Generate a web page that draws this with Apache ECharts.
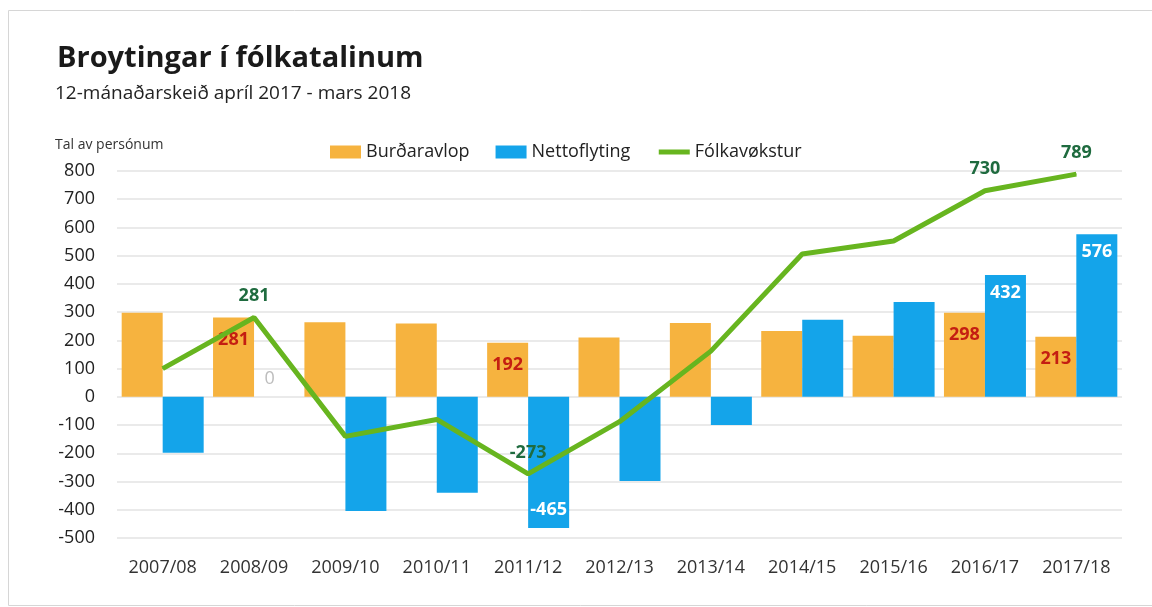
<!DOCTYPE html>
<html>
<head>
<meta charset="utf-8">
<script src="https://cdn.jsdelivr.net/npm/echarts@6/dist/echarts.min.js"></script>
<style>
  html, body { margin: 0; padding: 0; background: #fff; }
  #main { width: 1152px; height: 607px; }
</style>
</head>
<body>
<div id="main"></div>
<script>
var categories = ['2007/08', '2008/09', '2009/10', '2010/11', '2011/12', '2012/13', '2013/14', '2014/15', '2015/16', '2016/17', '2017/18'];
var burdaravlop = [298, 281, 264, 260, 192, 210, 262, 233, 216, 298, 213];
var nettoflyting = [-198, 0, -404, -340, -465, -298, -100, 273, 336, 432, 576];
var folkavokstur = [100, 281, -140, -80, -273, -88, 162, 506, 552, 730, 789];
var yTicks = [-500, 800, 100];

// which points carry a value label
var burdLabelIdx = [1, 4, 9, 10];
var nettoLabelIdx = [4, 9, 10];
var folkLabelIdx = [1, 4, 9, 10];

var chart = echarts.init(document.getElementById('main'));
var font = "'Open Sans', 'Noto Sans', sans-serif";

var burdData = burdaravlop.map(function (v, i) {
  var show = burdLabelIdx.indexOf(i) >= 0;
  return { value: v, label: { show: show } };
});
var nettoData = nettoflyting.map(function (v, i) {
  if (v === 0) {
    return { value: v, label: { show: true, position: 'top', color: '#bdbdbd', fontWeight: 'normal', distance: 9, offset: [-5, 0] } };
  }
  var show = nettoLabelIdx.indexOf(i) >= 0;
  return { value: v, label: { show: show, position: v < 0 ? 'insideBottom' : 'insideTop' } };
});
var folkData = folkavokstur.map(function (v, i) {
  return { value: v, label: { show: folkLabelIdx.indexOf(i) >= 0 } };
});

var option = {
  backgroundColor: '#fff',
  animation: false,
  textStyle: { fontFamily: font },
  graphic: [
    { type: 'rect', shape: { x: 8.5, y: 10.5, width: 1160, height: 595 }, style: { fill: 'none', stroke: '#d6d6d6', lineWidth: 1 } },
    { type: 'text', left: 57, top: 44, style: { text: 'Broytingar í fólkatalinum', font: "bold 29px " + font, fill: '#1a1a1a' } },
    { type: 'text', left: 55, top: 84, style: { text: '12-mánaðarskeið apríl 2017 - mars 2018', font: "19px " + font, fill: '#222' } },
    { type: 'text', left: 55, top: 138, style: { text: 'Tal av persónum', font: "14px " + font, fill: '#333' } }
  ],
  legend: {
    left: 325,
    top: 138,
    itemWidth: 31,
    itemHeight: 13,
    itemGap: 26,
    textStyle: { fontSize: 18, color: '#222', fontFamily: font },
    data: [
      { name: 'Burðaravlop', icon: 'rect' },
      { name: 'Nettoflyting', icon: 'rect' },
      { name: 'Fólkavøkstur', itemStyle: { color: 'rgba(0,0,0,0)', borderWidth: 0 }, lineStyle: { width: 5, color: '#67b51f' } }
    ]
  },
  grid: { left: 117, right: 30, top: 171, bottom: 69 },
  xAxis: {
    type: 'category',
    data: categories,
    axisLine: { show: false, onZero: false },
    axisTick: { show: false },
    axisLabel: { fontSize: 18, color: '#333', margin: 21 }
  },
  yAxis: {
    type: 'value',
    min: yTicks[0],
    max: yTicks[1],
    interval: yTicks[2],
    axisLine: { show: false },
    axisTick: { show: false },
    axisLabel: { fontSize: 18, color: '#222', margin: 22 },
    splitLine: { lineStyle: { color: '#e3e3e3', width: 1.5 } }
  },
  series: [
    {
      name: 'Burðaravlop',
      type: 'bar',
      barWidth: 41,
      barGap: '0%',
      itemStyle: { color: '#f6b33f' },
      label: { position: 'insideTop', distance: 13, color: '#c41e12', fontSize: 18, fontWeight: 'bold' },
      data: burdData
    },
    {
      name: 'Nettoflyting',
      type: 'bar',
      barWidth: 41,
      barGap: '0%',
      itemStyle: { color: '#14a4ea' },
      label: { distance: 9, color: '#fff', fontSize: 18, fontWeight: 'bold' },
      data: nettoData
    },
    {
      name: 'Fólkavøkstur',
      type: 'line',
      symbol: 'circle',
      symbolSize: 1,
      showSymbol: true,
      z: 5,
      lineStyle: { color: '#67b51f', width: 5 },
      itemStyle: { color: '#67b51f' },
      label: { position: 'top', distance: 12, color: '#1f6b3f', fontSize: 18, fontWeight: 'bold' },
      data: folkData
    }
  ]
};
chart.setOption(option);
</script>
</body>
</html>
